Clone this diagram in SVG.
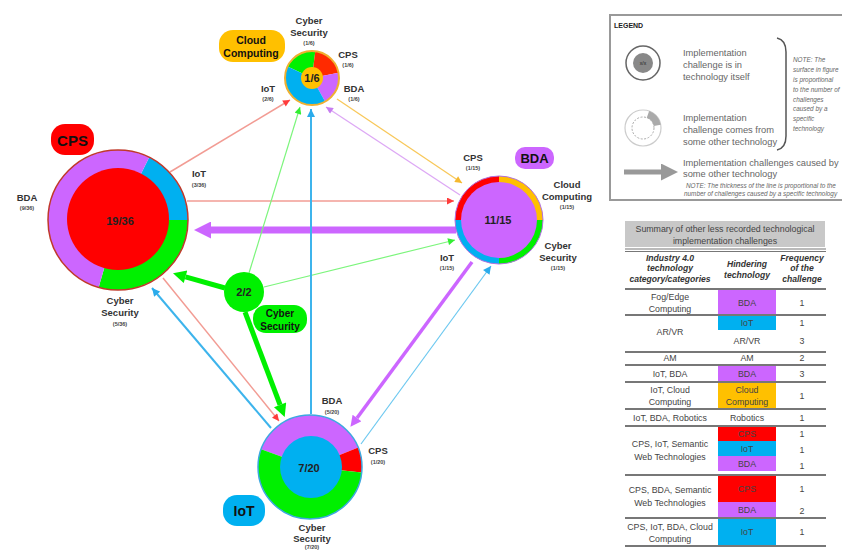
<svg xmlns="http://www.w3.org/2000/svg" width="842" height="551" viewBox="0 0 842 551">
<style>
text{font-family:"Liberation Sans",Arial,sans-serif;dominant-baseline:central;text-anchor:middle;fill:#222}
.lb{font-weight:bold;font-size:9.5px;fill:#333}
.sm{font-weight:bold;font-size:5.5px;fill:#444}
.num{font-weight:bold;font-size:11px;fill:#222}
.badge{font-weight:bold;fill:#111}
.lg{font-size:9.3px;fill:#666;text-anchor:start}
.note{font-size:6.4px;font-style:italic;fill:#666;text-anchor:start}
.tb{font-size:8.8px;fill:#444}
.th{font-size:8.6px;font-weight:bold;font-style:italic;fill:#333}
.tl{stroke:#777;stroke-width:2}
</style>
<defs>
<marker id="mRed" viewBox="0 0 10 10" refX="10" refY="5" markerWidth="8" markerHeight="7" markerUnits="userSpaceOnUse" orient="auto"><path d="M0,0 L10,5 L0,10 z" fill="#FF3B3B"/></marker>
<marker id="mGreen" viewBox="0 0 10 10" refX="10" refY="5" markerWidth="8" markerHeight="7" markerUnits="userSpaceOnUse" orient="auto"><path d="M0,0 L10,5 L0,10 z" fill="#33EE33"/></marker>
<marker id="mBlue" viewBox="0 0 10 10" refX="10" refY="5" markerWidth="9" markerHeight="8" markerUnits="userSpaceOnUse" orient="auto"><path d="M0,0 L10,5 L0,10 z" fill="#2AABEB"/></marker>
<marker id="mPurple" viewBox="0 0 10 10" refX="10" refY="5" markerWidth="8" markerHeight="7" markerUnits="userSpaceOnUse" orient="auto"><path d="M0,0 L10,5 L0,10 z" fill="#C77DF0"/></marker>
<marker id="mOrange" viewBox="0 0 10 10" refX="10" refY="5" markerWidth="8" markerHeight="7" markerUnits="userSpaceOnUse" orient="auto"><path d="M0,0 L10,5 L0,10 z" fill="#F5B82E"/></marker>
<marker id="mPurpleBig" viewBox="0 0 10 10" refX="0" refY="5" markerWidth="21" markerHeight="17" markerUnits="userSpaceOnUse" orient="auto"><path d="M0,0 L10,5 L0,10 z" fill="#CC66FF"/></marker>
<marker id="mPurpleMid" viewBox="0 0 10 10" refX="0" refY="5" markerWidth="12" markerHeight="11" markerUnits="userSpaceOnUse" orient="auto"><path d="M0,0 L10,5 L0,10 z" fill="#CC66FF"/></marker>
<marker id="mGreenBig" viewBox="0 0 10 10" refX="0" refY="5" markerWidth="14" markerHeight="13" markerUnits="userSpaceOnUse" orient="auto"><path d="M0,0 L10,5 L0,10 z" fill="#00F000"/></marker>
<marker id="mGray" viewBox="0 0 10 10" refX="0" refY="5" markerWidth="21" markerHeight="17" markerUnits="userSpaceOnUse" orient="auto"><path d="M0,0 L10,5 L0,10 z" fill="#999"/></marker>
</defs>

<g id="connectors" fill="none">
  <line x1="170" y1="172" x2="290" y2="100" stroke="#F29C94" stroke-width="1.5" marker-end="url(#mRed)"/>
  <line x1="187" y1="201" x2="454" y2="201" stroke="#F29C94" stroke-width="1.5" marker-end="url(#mRed)"/>
  <line x1="163" y1="278" x2="279" y2="421" stroke="#F29C94" stroke-width="1.5" marker-end="url(#mRed)"/>
  <line x1="456" y1="230" x2="211" y2="230" stroke="#CC66FF" stroke-width="7" marker-end="url(#mPurpleBig)"/>
  <line x1="472" y1="262" x2="357" y2="418" stroke="#CC66FF" stroke-width="3.5" marker-end="url(#mPurpleMid)"/>
  <line x1="460" y1="195" x2="326" y2="107" stroke="#DDA8F5" stroke-width="1.3" marker-end="url(#mPurple)"/>
  <line x1="337" y1="99" x2="462" y2="183" stroke="#F8C85A" stroke-width="1.3" marker-end="url(#mOrange)"/>
  <line x1="225" y1="288" x2="185.5" y2="276.8" stroke="#00F000" stroke-width="5" marker-end="url(#mGreenBig)"/>
  <line x1="245" y1="312" x2="280.1" y2="404.9" stroke="#00F000" stroke-width="5" marker-end="url(#mGreenBig)"/>
  <line x1="249" y1="273" x2="300" y2="107" stroke="#7CF57C" stroke-width="1.2" marker-end="url(#mGreen)"/>
  <line x1="264" y1="287" x2="455" y2="240" stroke="#7CF57C" stroke-width="1.2" marker-end="url(#mGreen)"/>
  <line x1="311" y1="414" x2="311" y2="109" stroke="#3DB4EC" stroke-width="2" marker-end="url(#mBlue)"/>
  <line x1="271" y1="428" x2="152" y2="288" stroke="#3DB4EC" stroke-width="2" marker-end="url(#mBlue)"/>
  <line x1="361" y1="444" x2="491" y2="266" stroke="#6CC8F0" stroke-width="1.2" marker-end="url(#mBlue)"/>
</g>

<g id="cloud">
  <rect x="219" y="30" width="66" height="32" rx="14" fill="#FFC000"/>
  <text class="badge" x="251" y="40" font-size="10.5">Cloud</text>
  <text class="badge" x="251" y="53" font-size="10.5">Computing</text>
  <path d="M312,78 L287.53,66.59 A27,27 0 0 1 315.29,51.2 Z" fill="#00F000"/>
  <path d="M312,78 L315.29,51.2 A27,27 0 0 1 338.5,72.85 Z" fill="#FF2A00"/>
  <path d="M312,78 L338.5,72.85 A27,27 0 0 1 325.09,101.61 Z" fill="#CC66FF"/>
  <path d="M312,78 L325.09,101.61 A27,27 0 0 1 287.53,66.59 Z" fill="#00B0F0"/>
  <circle cx="312" cy="78" r="27" fill="none" stroke="#F0B030" stroke-width="2"/>
  <circle cx="312" cy="78" r="11" fill="#FFC000"/>
  <text class="num" x="312" y="78" font-size="10.5">1/6</text>
  <text class="lb" x="309" y="20">Cyber</text>
  <text class="lb" x="309" y="32">Security</text>
  <text class="sm" x="309" y="43">(1/6)</text>
  <text class="lb" x="348" y="54">CPS</text>
  <text class="sm" x="348" y="65">(1/6)</text>
  <text class="lb" x="354" y="88">BDA</text>
  <text class="sm" x="354" y="99">(1/6)</text>
  <text class="lb" x="268" y="88">IoT</text>
  <text class="sm" x="268" y="99">(2/6)</text>
</g>

<g id="cps">
  <rect x="51" y="124" width="43" height="31" rx="14" fill="#FF0000"/>
  <text class="badge" x="72.5" y="140" font-size="15">CPS</text>
  <path d="M118,220 L149.23,157.36 A70,70 0 0 1 188,220 Z" fill="#00B0F0"/>
  <path d="M118,220 L188,220 A70,70 0 0 1 98.71,287.29 Z" fill="#00F000"/>
  <path d="M118,220 L98.71,287.29 A70,70 0 1 1 149.23,157.36 Z" fill="#CC66FF"/>
  <circle cx="118" cy="220" r="70" fill="none" stroke="#C0392B" stroke-width="1.5"/>
  <circle cx="118" cy="219" r="51" fill="#FF0000"/>
  <text class="num" x="120" y="221">19/36</text>
  <text class="lb" x="199" y="173">IoT</text>
  <text class="sm" x="199" y="185">(3/36)</text>
  <text class="lb" x="27" y="197">BDA</text>
  <text class="sm" x="27" y="208">(9/36)</text>
  <text class="lb" x="120" y="300">Cyber</text>
  <text class="lb" x="120" y="312">Security</text>
  <text class="sm" x="120" y="324">(5/36)</text>
</g>

<g id="bda">
  <rect x="515" y="147" width="39" height="22" rx="10" fill="#CC66FF"/>
  <text class="badge" x="534.5" y="158" font-size="13">BDA</text>
  <path d="M499,220 L455,220 A44,44 0 0 1 499,176 Z" fill="#FF0000"/>
  <path d="M499,220 L499,176 A44,44 0 0 1 543,220 Z" fill="#FFC000"/>
  <path d="M499,220 L543,220 A44,44 0 0 1 499,264 Z" fill="#00F000"/>
  <path d="M499,220 L499,264 A44,44 0 0 1 455,220 Z" fill="#00B0F0"/>
  <circle cx="499" cy="220" r="44" fill="none" stroke="#B070E0" stroke-width="1"/>
  <circle cx="499" cy="220" r="38" fill="#CC66FF"/>
  <text class="num" x="498" y="220">11/15</text>
  <text class="lb" x="473" y="157">CPS</text>
  <text class="sm" x="473" y="168">(1/15)</text>
  <text class="lb" x="567" y="184">Cloud</text>
  <text class="lb" x="567" y="196">Computing</text>
  <text class="sm" x="567" y="207">(1/15)</text>
  <text class="lb" x="558" y="245">Cyber</text>
  <text class="lb" x="558" y="257">Security</text>
  <text class="sm" x="558" y="268">(1/15)</text>
  <text class="lb" x="447" y="257">IoT</text>
  <text class="sm" x="447" y="268">(1/15)</text>
</g>

<g id="iot">
  <rect x="223" y="495" width="42" height="31" rx="14" fill="#00B0F0"/>
  <text class="badge" x="244" y="510.5" font-size="14">IoT</text>
  <path d="M310,467 L261.14,449.22 A52,52 0 0 1 358.21,447.52 Z" fill="#CC66FF"/>
  <path d="M310,467 L358.21,447.52 A52,52 0 0 1 361.71,472.44 Z" fill="#FF0000"/>
  <path d="M310,467 L361.71,472.44 A52,52 0 1 1 261.14,449.22 Z" fill="#00F000"/>
  <circle cx="310" cy="467" r="52" fill="none" stroke="#3DA8E0" stroke-width="1.5"/>
  <circle cx="311" cy="467" r="31" fill="#00B0F0"/>
  <text class="num" x="309" y="468" font-size="12">7/20</text>
  <text class="lb" x="332" y="400">BDA</text>
  <text class="sm" x="332" y="412">(5/20)</text>
  <text class="lb" x="378" y="450">CPS</text>
  <text class="sm" x="378" y="462">(1/20)</text>
  <text class="lb" x="312" y="527">Cyber</text>
  <text class="lb" x="312" y="538">Security</text>
  <text class="sm" x="312" y="547">(7/20)</text>
</g>

<g id="cyber">
  <circle cx="244" cy="292" r="20" fill="#00F000"/>
  <text class="num" x="244" y="292" font-size="9.5">2/2</text>
  <rect x="253" y="305" width="54" height="28" rx="13" fill="#00F000"/>
  <text class="badge" x="280" y="313" font-size="10">Cyber</text>
  <text class="badge" x="280" y="326" font-size="10">Security</text>
</g>

<g id="legend">
  <rect x="610" y="15" width="250" height="185" fill="#fff" stroke="#999" stroke-width="2"/>
  <text x="614" y="25" font-size="7" font-weight="bold" fill="#333" style="text-anchor:start">LEGEND</text>
  <circle cx="643" cy="63" r="17" fill="#fff" stroke="#666" stroke-width="1.5"/>
  <circle cx="643" cy="63" r="10" fill="#888"/>
  <text x="643" y="63" font-size="5" fill="#333">x/x</text>
  <text class="lg" x="683" y="53">Implementation</text>
  <text class="lg" x="683" y="65">challenge is in</text>
  <text class="lg" x="683" y="77">technology itself</text>
  <circle cx="643" cy="128" r="18" fill="#fff" stroke="#ccc" stroke-width="1.2"/>
  <circle cx="643" cy="128" r="11" fill="none" stroke="#aaa" stroke-width="1" stroke-dasharray="2,1.5"/>
  <path d="M649.16,111.09 A18,18 0 0 1 660.73,124.87 L653.83,126.09 A11,11 0 0 0 646.76,117.66 Z" fill="#aaa"/>
  <text class="lg" x="683" y="118">Implementation</text>
  <text class="lg" x="683" y="130">challenge comes from</text>
  <text class="lg" x="683" y="142">some other technology</text>
  <path d="M777,38 Q786,40 786,52 L786,136 Q786,148 777,150" fill="none" stroke="#555" stroke-width="1.5"/>
  <text class="note" x="793" y="59">NOTE: The</text>
  <text class="note" x="793" y="69">surface in figure</text>
  <text class="note" x="793" y="79">is proportional</text>
  <text class="note" x="793" y="89">to the number of</text>
  <text class="note" x="793" y="99">challenges</text>
  <text class="note" x="793" y="108">caused by a</text>
  <text class="note" x="793" y="118">specific</text>
  <text class="note" x="793" y="128">technology</text>
  <line x1="624" y1="172" x2="661" y2="172" stroke="#999" stroke-width="5" marker-end="url(#mGray)"/>
  <text class="lg" x="683" y="163" font-size="9.5">Implementation challenges caused by</text>
  <text class="lg" x="683" y="174" font-size="9.5">some other technology</text>
  <text class="note" x="686" y="185">NOTE: The thickness of the line is proportional  to the</text>
  <text class="note" x="684" y="193">number of challenges caused by a specific technology</text>
</g>

<g id="table">
  <rect x="625" y="221" width="200" height="26" fill="#C8C8C8"/>
  <text class="tb" x="725" y="229" font-size="10.2">Summary of other less recorded technological</text>
  <text class="tb" x="725" y="241" font-size="10.2">implementation challenges</text>
  <line x1="625" y1="249" x2="826" y2="249" stroke="#777" stroke-width="1.2"/>
  <line x1="625" y1="251.5" x2="826" y2="251.5" stroke="#777" stroke-width="1.2"/>
  <text class="th" x="670" y="258">Industry 4.0</text>
  <text class="th" x="670" y="268">technology</text>
  <text class="th" x="670" y="279">category/categories</text>
  <text class="th" x="747" y="264">Hindering</text>
  <text class="th" x="747" y="275">technology</text>
  <text class="th" x="802" y="258">Frequency</text>
  <text class="th" x="802" y="268">of the</text>
  <text class="th" x="802" y="279">challenge</text>
  <line class="tl" x1="625" y1="289" x2="826" y2="289"/>

  <rect x="718" y="290" width="58" height="24" fill="#CC66FF"/>
  <text class="tb" x="670" y="297">Fog/Edge</text>
  <text class="tb" x="670" y="309">Computing</text>
  <text class="tb" x="747" y="303" fill="#5a2a7a">BDA</text>
  <text class="tb" x="802" y="303">1</text>
  <line class="tl" x1="625" y1="315" x2="826" y2="315"/>

  <rect x="718" y="316" width="58" height="14" fill="#00B0F0"/>
  <text class="tb" x="747" y="323" fill="#1a4a70">IoT</text>
  <text class="tb" x="802" y="323">1</text>
  <text class="tb" x="670" y="332">AR/VR</text>
  <text class="tb" x="747" y="341">AR/VR</text>
  <text class="tb" x="802" y="341">3</text>
  <line class="tl" x1="625" y1="352" x2="826" y2="352"/>

  <text class="tb" x="670" y="358">AM</text>
  <text class="tb" x="747" y="358">AM</text>
  <text class="tb" x="802" y="358">2</text>
  <line class="tl" x1="625" y1="365" x2="826" y2="365"/>

  <rect x="718" y="366" width="58" height="15" fill="#CC66FF"/>
  <text class="tb" x="670" y="374">IoT, BDA</text>
  <text class="tb" x="747" y="374" fill="#5a2a7a">BDA</text>
  <text class="tb" x="802" y="374">3</text>
  <line class="tl" x1="625" y1="382" x2="826" y2="382"/>

  <rect x="718" y="383" width="58" height="25" fill="#FFC000"/>
  <text class="tb" x="670" y="390">IoT, Cloud</text>
  <text class="tb" x="670" y="402">Computing</text>
  <text class="tb" x="747" y="390" fill="#6a5000">Cloud</text>
  <text class="tb" x="747" y="402" fill="#6a5000">Computing</text>
  <text class="tb" x="802" y="396">1</text>
  <line class="tl" x1="625" y1="409" x2="826" y2="409"/>

  <text class="tb" x="670" y="418">IoT, BDA, Robotics</text>
  <text class="tb" x="747" y="418">Robotics</text>
  <text class="tb" x="802" y="418">1</text>
  <line class="tl" x1="625" y1="426" x2="826" y2="426"/>

  <rect x="718" y="427" width="58" height="14" fill="#FF0000"/>
  <rect x="718" y="441" width="58" height="15" fill="#00B0F0"/>
  <rect x="718" y="456" width="58" height="15" fill="#CC66FF"/>
  <text class="tb" x="670" y="444">CPS, IoT, Semantic</text>
  <text class="tb" x="670" y="457">Web Technologies</text>
  <text class="tb" x="747" y="434" fill="#8a0000">CPS</text>
  <text class="tb" x="747" y="449" fill="#1a4a70">IoT</text>
  <text class="tb" x="747" y="464" fill="#5a2a7a">BDA</text>
  <text class="tb" x="802" y="434">1</text>
  <text class="tb" x="802" y="450">1</text>
  <text class="tb" x="802" y="466">1</text>
  <line class="tl" x1="625" y1="475" x2="826" y2="475"/>

  <rect x="718" y="476" width="58" height="26" fill="#FF0000"/>
  <rect x="718" y="502" width="58" height="15" fill="#CC66FF"/>
  <text class="tb" x="670" y="490">CPS, BDA, Semantic</text>
  <text class="tb" x="670" y="503">Web Technologies</text>
  <text class="tb" x="747" y="489" fill="#8a0000">CPS</text>
  <text class="tb" x="747" y="510" fill="#5a2a7a">BDA</text>
  <text class="tb" x="802" y="489">1</text>
  <text class="tb" x="802" y="511">2</text>
  <line class="tl" x1="625" y1="518" x2="826" y2="518"/>

  <rect x="718" y="519" width="58" height="26" fill="#00B0F0"/>
  <text class="tb" x="670" y="527">CPS, IoT, BDA, Cloud</text>
  <text class="tb" x="670" y="539">Computing</text>
  <text class="tb" x="747" y="532" fill="#1a4a70">IoT</text>
  <text class="tb" x="802" y="532">1</text>
  <line class="tl" x1="625" y1="546" x2="826" y2="546"/>
</g>
</svg>
